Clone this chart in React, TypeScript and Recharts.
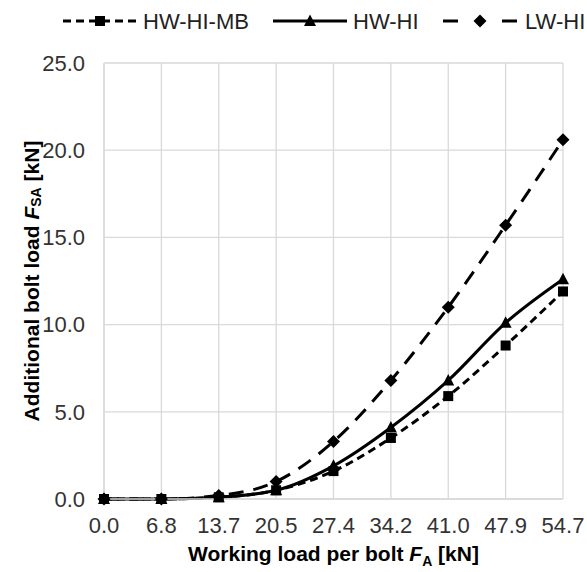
import { LineChart, Line, XAxis, YAxis, CartesianGrid } from 'recharts';

const LOADS = ['0.0', '6.8', '13.7', '20.5', '27.4', '34.2', '41.0', '47.9', '54.7'];
const HW_HI_MB = [0, 0, 0.1, 0.5, 1.6, 3.5, 5.9, 8.8, 11.9];
const HW_HI = [0, 0, 0.1, 0.5, 1.9, 4.1, 6.8, 10.1, 12.6];
const LW_HI = [0, 0, 0.2, 1.0, 3.3, 6.8, 11.0, 15.7, 20.6];
const Y_TICKS = [0, 5, 10, 15, 20, 25];

const data = LOADS.map((load, i) => ({
  load,
  mb: HW_HI_MB[i],
  hw: HW_HI[i],
  lw: LW_HI[i],
}));

const FONT = 'Arial, "Liberation Sans", sans-serif';

// eslint-disable-next-line @typescript-eslint/no-explicit-any
const SquareDot = ({ cx, cy }: any) =>
  cx == null ? null : <rect x={cx - 5} y={cy - 5} width={10} height={10} fill="#000" />;

// eslint-disable-next-line @typescript-eslint/no-explicit-any
const TriangleDot = ({ cx, cy }: any) =>
  cx == null ? null : (
    <path d={`M${cx},${cy - 6.5} L${cx + 6},${cy + 5} L${cx - 6},${cy + 5} Z`} fill="#000" />
  );

// eslint-disable-next-line @typescript-eslint/no-explicit-any
const DiamondDot = ({ cx, cy }: any) =>
  cx == null ? null : (
    <path d={`M${cx},${cy - 6.5} L${cx + 6.5},${cy} L${cx},${cy + 6.5} L${cx - 6.5},${cy} Z`} fill="#000" />
  );

// eslint-disable-next-line @typescript-eslint/no-explicit-any
const XTitle = ({ viewBox }: any) => (
  <text
    x={viewBox.x + viewBox.width / 2}
    y={viewBox.y + 62}
    textAnchor="middle"
    fontFamily={FONT}
    fontSize={21}
    fontWeight="bold"
    fill="#000"
  >
    Working load per bolt <tspan fontStyle="italic">F</tspan>
    <tspan fontSize={14} dy={5}>A</tspan>
    <tspan dy={-5}> [kN]</tspan>
  </text>
);

// eslint-disable-next-line @typescript-eslint/no-explicit-any
const YTitle = ({ viewBox }: any) => {
  const cx = 31;
  const cy = viewBox.y + viewBox.height / 2;
  return (
    <text
      x={cx}
      y={cy}
      transform={`rotate(-90 ${cx} ${cy})`}
      textAnchor="middle"
      dominantBaseline="central"
      fontFamily={FONT}
      fontSize={21}
      fontWeight="bold"
      fill="#000"
    >
      Additional bolt load <tspan fontStyle="italic">F</tspan>
      <tspan fontSize={14} dy={5}>SA</tspan>
      <tspan dy={-5}> [kN]</tspan>
    </text>
  );
};

const LEGEND = [
  { label: 'HW-HI-MB', dash: '8 5', marker: 'square', x: 63, textX: 143 },
  { label: 'HW-HI', dash: undefined, marker: 'triangle', x: 273, textX: 353 },
  { label: 'LW-HI', dash: '15 44', marker: 'diamond', x: 443, textX: 525 },
];

const LegendRow = () => (
  <svg width={587} height={40} style={{ position: 'absolute', left: 0, top: 0 }}>
    {LEGEND.map(item => {
      const mx = item.x + 37;
      const my = 21;
      return (
        <g key={item.label}>
          <line
            x1={item.x}
            y1={my}
            x2={item.x + 74}
            y2={my}
            stroke="#000"
            strokeWidth={3}
            strokeDasharray={item.dash}
          />
          {item.marker === 'square' && <SquareDot cx={mx} cy={my} />}
          {item.marker === 'triangle' && <TriangleDot cx={mx} cy={my} />}
          {item.marker === 'diamond' && <DiamondDot cx={mx} cy={my} />}
          <text x={item.textX} y={my} dominantBaseline="central" fontFamily={FONT} fontSize={22} fill="#222">
            {item.label}
          </text>
        </g>
      );
    })}
  </svg>
);

export default function App() {
  return (
    <div style={{ position: 'absolute', left: 0, top: 0, width: 587, height: 572, background: '#fff' }}>
      <LegendRow />
      <LineChart
        width={587}
        height={572}
        data={data}
        margin={{ top: 63, right: 24, bottom: 0, left: 0 }}
      >
        <CartesianGrid stroke="#d9d9d9" strokeWidth={1.3} />
        <XAxis
          dataKey="load"
          interval={0}
          height={73}
          tickSize={0}
          tickMargin={18}
          tick={{ fontSize: 22, fill: '#333', fontFamily: FONT }}
          axisLine={{ stroke: '#d9d9d9', strokeWidth: 1.3 }}
          label={<XTitle />}
        />
        <YAxis
          width={104}
          domain={[0, 25]}
          ticks={Y_TICKS}
          tickFormatter={(v: number) => v.toFixed(1)}
          tickSize={0}
          tickMargin={19}
          tick={{ fontSize: 22, fill: '#333', fontFamily: FONT }}
          axisLine={{ stroke: '#d9d9d9', strokeWidth: 1.3 }}
          label={<YTitle />}
        />
        <Line
          type="monotone"
          dataKey="mb"
          stroke="#000"
          strokeWidth={3}
          strokeDasharray="8 5"
          dot={<SquareDot />}
          activeDot={false}
          isAnimationActive={false}
        />
        <Line
          type="monotone"
          dataKey="hw"
          stroke="#000"
          strokeWidth={3}
          dot={<TriangleDot />}
          activeDot={false}
          isAnimationActive={false}
        />
        <Line
          type="monotone"
          dataKey="lw"
          stroke="#000"
          strokeWidth={3}
          strokeDasharray="15 10"
          dot={<DiamondDot />}
          activeDot={false}
          isAnimationActive={false}
        />
      </LineChart>
    </div>
  );
}
